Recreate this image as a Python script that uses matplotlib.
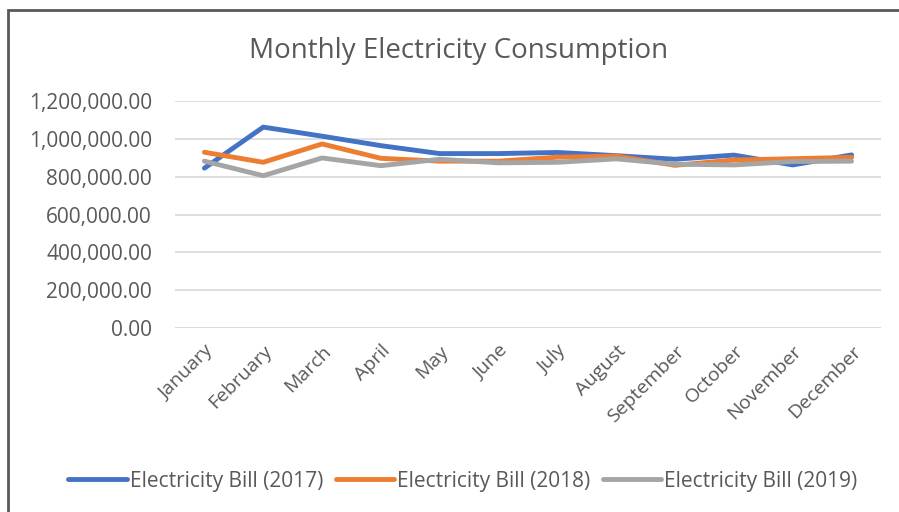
import matplotlib
matplotlib.use("Agg")
import matplotlib.pyplot as plt
from matplotlib.patches import Rectangle
from matplotlib.ticker import FuncFormatter

months = ["January", "February", "March", "April", "May", "June", "July",
          "August", "September", "October", "November", "December"]
bill_2017 = [845000, 1062000, 1014000, 964000, 922000, 922000, 928000,
             911000, 892000, 914000, 862000, 915000]
bill_2018 = [929000, 876000, 973000, 897000, 882000, 882000, 903000,
             909000, 860000, 888000, 895000, 902000]
bill_2019 = [882000, 805000, 899000, 858000, 892000, 873000, 876000,
             894000, 866000, 862000, 880000, 882000]

plt.rcParams['font.family'] = ['Open Sans', 'DejaVu Sans']
txt = '#595959'

fig = plt.figure(figsize=(8.99, 5.12), dpi=100)
# outer chart border
fig.patches.append(Rectangle((8/899, -0.1), 1.0, 1 - 10/512 + 0.1,
                             transform=fig.transFigure, fill=False,
                             edgecolor='#595959', linewidth=2))
ax = fig.add_axes([175/899, 1 - 328/512, 706/899, 227/512])

x = range(len(months))
ax.plot(x, bill_2017, color='#4472C4', lw=3.5, solid_capstyle='round',
        label='Electricity Bill (2017)')
ax.plot(x, bill_2018, color='#ED7D31', lw=3.5, solid_capstyle='round',
        label='Electricity Bill (2018)')
ax.plot(x, bill_2019, color='#A5A5A5', lw=3.5, solid_capstyle='round',
        label='Electricity Bill (2019)')

ax.set_xlim(-0.5, 11.5)
ax.set_ylim(0, 1200000)
ax.set_yticks(range(0, 1200001, 200000))
ax.yaxis.set_major_formatter(FuncFormatter(lambda v, p: f"{v:,.2f}"))
ax.set_xticks(list(x))
ax.set_xticklabels(months, rotation=45, ha='right', rotation_mode='anchor')
ax.tick_params(axis='both', length=0, colors=txt)
ax.tick_params(axis='y', pad=16.5, labelsize=15)
ax.tick_params(axis='x', pad=10, labelsize=14)
ax.grid(axis='y', color='#D9D9D9', lw=1.2)
ax.set_axisbelow(True)
for s in ax.spines.values():
    s.set_visible(False)
ax.axhline(0, color='#D9D9D9', lw=1.2, zorder=0)

fig.text(459/899, 1 - 51/512, 'Monthly Electricity Consumption',
         ha='center', va='center', fontsize=20, color=txt)

fig.legend(loc='center', bbox_to_anchor=(463/899, 1 - 481/512), ncol=3,
           frameon=False, fontsize=15, labelcolor=txt, handlelength=2.8,
           handletextpad=0.15, columnspacing=0.6)

fig.savefig("out.png", dpi=100)
